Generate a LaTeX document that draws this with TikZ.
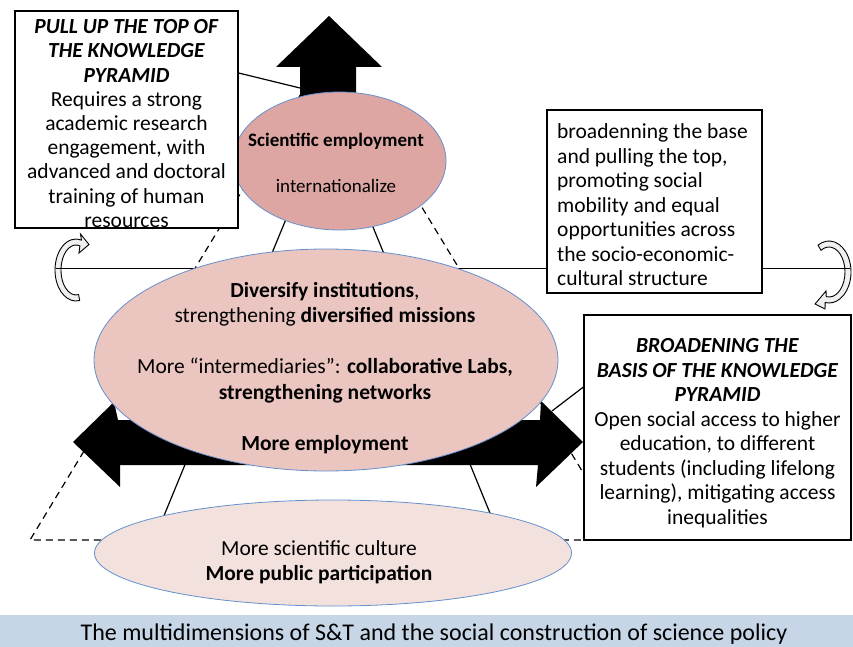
\documentclass[tikz,border=0pt]{standalone}
\usepackage{fontspec}
\setmainfont{Carlito}
\usetikzlibrary{shapes.geometric}
\usetikzlibrary{calc}
\definecolor{topfill}{RGB}{221,166,162}
\definecolor{midfill}{RGB}{235,197,192}
\definecolor{basefill}{RGB}{243,225,222}
\definecolor{rand}{RGB}{100,145,205}
\definecolor{band}{RGB}{198,214,231}

\begin{document}
\begin{tikzpicture}[x=1pt, y=-1pt,
    kasten/.style={draw, line width=1.2pt, fill=white, inner sep=0pt},
    blase/.style={ellipse, draw=rand, line width=0.8pt, inner sep=0pt},
    schrift/.style={align=center, inner sep=0pt, font=\fontsize{21.5}{24.2}\selectfont},
    kringel/.style={draw, line width=0.9pt, fill=gray!12},
    linie/.style={line width=1.2pt}]

    \useasboundingbox (0,0) rectangle (853,647);

    % Titelleiste
    \fill[band] (0,615) rectangle (853,647);
    \node[font=\fontsize{24}{26}\selectfont] (caption) at (434,634) {The multidimensions of S\&T and the social construction of science policy};

    % gestricheltes Dreieck
    \coordinate (dtop) at (327,51);
    \coordinate (dleft) at (30,540);
    \coordinate (dright) at (624,540);
    \draw[linie, dash pattern=on 7pt off 5pt] (dtop) -- (dleft) -- (dright) -- cycle;

    % Dreieck durchgezogen
    \coordinate (stop) at (328,117);
    \coordinate (sleft) at (154,540);
    \coordinate (sright) at (501,540);
    \draw[linie] (sleft) -- (stop) -- (sright);

    % Kringel links und rechts
    \coordinate (lcurl) at (76,270);
    \coordinate (rcurl) at (829,272);
    \begin{scope}[shift={(lcurl)}]
        \filldraw[kringel] (280:21pt and 31pt) arc[start angle=280, end angle=75, x radius=21pt, y radius=31pt]
            -- (4.5pt,36pt) -- (13pt,25.5pt) -- (3pt,17pt)
            -- (75:15pt and 25pt) arc[start angle=75, end angle=280, x radius=15pt, y radius=25pt] -- cycle;
    \end{scope}
    \begin{scope}[shift={(rcurl)}]
        \filldraw[kringel] (120:22pt and 31pt) arc[start angle=120, end angle=-100, x radius=22pt, y radius=31pt]
            -- (-4pt,-37pt) -- (-14pt,-32pt) -- (-3pt,-19pt)
            -- (-100:16pt and 25pt) arc[start angle=-100, end angle=120, x radius=16pt, y radius=25pt] -- cycle;
    \end{scope}
    \coordinate (lend) at (56,268);
    \coordinate (rend) at (850,268);
    \draw[line width=1pt] (lend) -- (rend);

    % Blockpfeile
    \fill (329,16) -- (382,67) -- (356,67) -- (356,130) -- (300,130) -- (300,67) -- (276,67) -- cycle;
    \fill (73,442) -- (114,402) -- (118,420) -- (540,420) -- (541,401) -- (583,442)
          -- (536,487) -- (538,465) -- (120,465) -- (120,487) -- cycle;
    \coordinate (upshaft) at (300,88);
    \coordinate (rhead) at (552,411);

    % Ellipsen
    \node[blase, fill=topfill, minimum width=213pt, minimum height=138pt] (sciell) at (339.5,161) {};
    \node[schrift, font=\fontsize{19}{23}\selectfont] (scitext) at (336,163)
        {\textbf{Scientific employment}\\[23pt] internationalize};
    \node[blase, fill=midfill, minimum width=464pt, minimum height=222pt] (divell) at (326,360) {};
    \node[schrift, font=\fontsize{21.5}{25.5}\selectfont] (divtext) at (325,368)
        {\textbf{Diversify institutions},\\ strengthening \textbf{diversified missions}\\[25.5pt]
         More “intermediaries”: \textbf{collaborative Labs,}\\ \textbf{strengthening networks}\\[25.5pt]
         \textbf{More employment}};
    \node[blase, fill=basefill, minimum width=477pt, minimum height=106pt] (culell) at (333,553) {};
    \node[schrift, font=\fontsize{21.5}{25}\selectfont] (cultext) at (319,562)
        {More scientific culture\\ \textbf{More public participation}};

    % Kaesten
    \node[kasten, minimum width=223pt, minimum height=217pt] (pullbox) at (126.5,119.5) {};
    \node[schrift] (pulltext) at (126.5,123.5)
        {\textbf{\textit{PULL UP THE TOP OF}}\\ \textbf{\textit{THE KNOWLEDGE}}\\ \textbf{\textit{PYRAMID}}\\
         Requires a strong\\ academic research\\ engagement, with\\ advanced and doctoral\\ training of human\\ resources};
    \node[kasten, minimum width=215pt, minimum height=183pt] (basebox) at (654.5,201.5) {};
    \node[schrift, align=left, anchor=west, font=\fontsize{21.5}{24.5}\selectfont] (basetext) at (557,205)
        {broadenning the base\\ and pulling the top,\\ promoting social\\ mobility and equal\\ opportunities across\\ the socio-economic-\\ cultural structure};
    \node[kasten, minimum width=267pt, minimum height=225pt] (broadbox) at (717.5,427.5) {};
    \node[schrift, font=\fontsize{21.5}{24.5}\selectfont] (broadtext) at (717.5,433)
        {\textbf{\textit{BROADENING THE}}\\ \textbf{\textit{BASIS OF THE KNOWLEDGE}}\\ \textbf{\textit{PYRAMID}}\\
         Open social access to higher\\ education, to different\\ students (including lifelong\\ learning), mitigating access\\ inequalities};

    % Verbinder
    \draw[linie] ([yshift=46.5pt]pullbox.east) -- (upshaft);
    \draw[linie] ([yshift=40.5pt]broadbox.west) -- (rhead);

\end{tikzpicture}
\end{document}
